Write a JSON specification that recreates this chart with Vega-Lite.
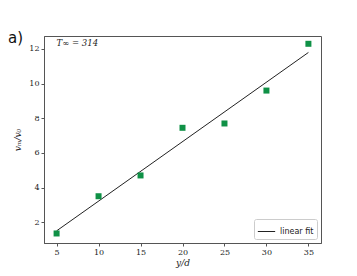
{
  "$schema": "https://vega.github.io/schema/vega-lite/v6.json",
  "width": 277,
  "height": 207,
  "autosize": {"type": "none"},
  "padding": {"left": 44, "top": 36, "right": 36, "bottom": 33},
  "background": "white",
  "title": {"text": "a)", "anchor": "start", "frame": "group", "orient": "top", "font": "DejaVu Sans", "fontSize": 15, "fontWeight": "normal", "color": "#111", "dx": -36, "dy": 10, "offset": 0},
  "config": {
    "view": {"stroke": "#555", "strokeWidth": 1},
    "axis": {"grid": false, "labelFont": "DejaVu Serif", "labelFontSize": 8, "labelColor": "#222", "titleFont": "DejaVu Serif", "titleFontSize": 9, "titleFontWeight": "normal", "titleFontStyle": "italic", "titleColor": "#222", "domainColor": "#555", "tickColor": "#555", "tickSize": 3, "labelPadding": 2},
    "legend": {"orient": "bottom-right", "strokeColor": "#ccc", "fillColor": "white", "padding": 3, "cornerRadius": 2, "offset": 4, "labelFont": "DejaVu Sans", "labelFontSize": 8, "labelColor": "#222", "symbolStrokeWidth": 1, "symbolSize": 300, "symbolType": "stroke", "title": null}
  },
  "datasets": {
    "pts": [
      {"yd": 5, "v": 1.35},
      {"yd": 10, "v": 3.5},
      {"yd": 15, "v": 4.7},
      {"yd": 20, "v": 7.45},
      {"yd": 25, "v": 7.7},
      {"yd": 30, "v": 9.6},
      {"yd": 35, "v": 12.3}
    ],
    "fit": [
      {"yd": 5, "v": 1.5, "series": "linear fit"},
      {"yd": 35, "v": 11.8, "series": "linear fit"}
    ]
  },
  "layer": [
    {
      "data": {"name": "fit"},
      "mark": {"type": "line", "strokeWidth": 1},
      "encoding": {
        "x": {"field": "yd", "type": "quantitative", "scale": {"domain": [3.5, 36.5], "nice": false, "zero": false}, "axis": {"values": [5, 10, 15, 20, 25, 30, 35], "title": "y/d", "titlePadding": 2}},
        "y": {"field": "v", "type": "quantitative", "scale": {"domain": [0.8, 12.75], "nice": false, "zero": false}, "axis": {"values": [2, 4, 6, 8, 10, 12], "title": "vₘ/v₀", "titlePadding": 6}},
        "stroke": {"field": "series", "type": "nominal", "scale": {"range": ["#222"]}}
      }
    },
    {
      "data": {"name": "pts"},
      "mark": {"type": "square", "size": 36, "color": "#0f9146", "opacity": 1, "filled": true},
      "encoding": {
        "x": {"field": "yd", "type": "quantitative"},
        "y": {"field": "v", "type": "quantitative"}
      }
    },
    {
      "data": {"values": [{"label": "T∞ = 314"}]},
      "mark": {"type": "text", "align": "left", "baseline": "middle", "font": "DejaVu Serif", "fontSize": 8.5, "fontStyle": "italic", "color": "#222"},
      "encoding": {
        "x": {"datum": 5},
        "y": {"datum": 12.35},
        "text": {"field": "label"}
      }
    }
  ]
}
